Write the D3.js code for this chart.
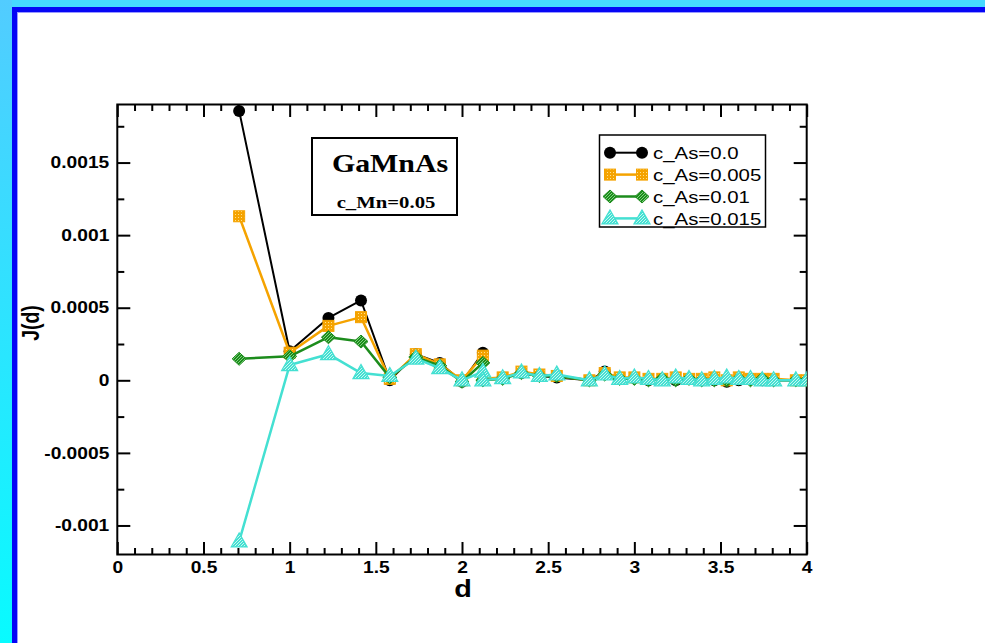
<!DOCTYPE html>
<html><head><meta charset="utf-8">
<script src="https://cdn.jsdelivr.net/npm/d3@7"></script>
<style>body{margin:0;background:#fff;overflow:hidden}svg{display:block}</style>
</head><body><svg id="c" width="985" height="643"></svg>
<script>
// ---- data ----
const dist = [0.707, 1.0, 1.225, 1.414, 1.581, 1.732, 1.871, 2.0, 2.121, 2.121, 2.236, 2.345, 2.449, 2.550, 2.739, 2.828, 2.915, 3.0, 3.082, 3.162, 3.240, 3.317, 3.391, 3.464, 3.536, 3.606, 3.674, 3.742, 3.808, 3.937, 4.0];
const jAs0   = [0.001856, 0.00020, 0.00043, 0.00055, 0.0, 0.00018, 0.00012, -0.00001, 0.00019, 0.0, 0.00002, 0.00005, 0.00003, 0.00002, 0.0, 0.00006, 0.00001, 0.00002, 0.0, 0.00001, 0.0, 0.00001, 0.0, 0.0, -0.00001, 0.0, 0.00001, 0.0, 0.0, 0.0, 0.0];
const jAs005 = [0.00113, 0.00019, 0.000375, 0.000435, 0.00001, 0.00018, 0.00011, 0.0, 0.00017, 0.00001, 0.00002, 0.00006, 0.00004, 0.00003, 0.0, 0.00005, 0.00002, 0.00002, 0.00001, 0.00001, 0.00002, 0.00001, 0.00001, 0.00002, 0.0, 0.00002, 0.00001, 0.00001, 0.00001, 0.0, 0.0];
const jAs01  = [0.000148, 0.000165, 0.000297, 0.000267, 0.00002, 0.00016, 0.0001, -0.00001, 0.00012, 0.0, 0.00001, 0.00005, 0.00003, 0.00003, 0.0, 0.00004, 0.00001, 0.00001, 0.0, 0.00001, 0.0, 0.00001, 0.0, 0.0, 0.0, 0.00001, 0.0, 0.00001, 0.0, 0.0, 0.0];
const jAs015 = [-0.00111, 0.000105, 0.00018, 0.00005, 0.00003, 0.00015, 0.000084, 0.0, 0.00006, 0.0, 0.000015, 0.000054, 0.00003, 0.00004, 0.0, 0.00004, 0.00001, 0.00002, 0.00001, 0.0, 0.00002, 0.00001, 0.0, 0.00001, 0.00002, 0.00001, 0.00001, 0.0, 0.0, 0.0, 0.0];
const seriesNames = ["c_As=0.0", "c_As=0.005", "c_As=0.01", "c_As=0.015"];
const xTicks = [0, 0.5, 1, 1.5, 2, 2.5, 3, 3.5, 4];
const xTickLabels = ["0", "0.5", "1", "1.5", "2", "2.5", "3", "3.5", "4"];
const yTicks = [-0.001, -0.0005, 0, 0.0005, 0.001, 0.0015];
const yTickLabels = ["-0.001", "-0.0005", "0", "0.0005", "0.001", "0.0015"];
const titleText = "GaMnAs";
const subtitleText = "c_Mn=0.05";
const xLabel = "d";
const yLabel = "J(d)";

// ---- setup ----
const svg = d3.select('#c');
const SX = 1.2; // horizontal stretch of text in reference
const L = 117.3, R = 806.7, T = 104.5, B = 554.5;
const x = d3.scaleLinear().domain([0, 4]).range([L, R]);
const y = d3.scaleLinear().domain([-0.0012, 0.0019]).range([B, T]);

const defs = svg.append('defs');
const grad = defs.append('linearGradient').attr('id', 'lg').attr('x1', 0).attr('y1', 0).attr('x2', 0).attr('y2', 1);
grad.append('stop').attr('offset', 0).attr('stop-color', '#52ccff');
grad.append('stop').attr('offset', 1).attr('stop-color', '#08fbff');
function pat(id, base, light, kind) {
  const p = defs.append('pattern').attr('id', id).attr('patternUnits', 'userSpaceOnUse').attr('width', 3).attr('height', 3);
  p.append('rect').attr('width', 3).attr('height', 3).attr('fill', base);
  if (kind === 'dot') p.append('rect').attr('x', 1).attr('y', 1).attr('width', 1).attr('height', 1).attr('fill', light);
  else { p.append('rect').attr('x', 0).attr('y', 0).attr('width', 1).attr('height', 1).attr('fill', light);
         p.append('rect').attr('x', 2).attr('y', 1).attr('width', 1).attr('height', 1).attr('fill', light);
         p.append('rect').attr('x', 1).attr('y', 2).attr('width', 1).attr('height', 1).attr('fill', light); }
}
pat('pO', '#f5a300', '#ffe08a', 'dot');
pat('pG', '#1c8c1c', '#7fd07f', 'x');
pat('pC', '#44e0d2', '#c8f6f1', 'x');
defs.append('clipPath').attr('id', 'clip').append('rect').attr('x', L).attr('y', T).attr('width', R - L).attr('height', B - T);

// frame
svg.append('rect').attr('width', 985).attr('height', 643).attr('fill', '#fff');
svg.append('rect').attr('x', 0).attr('y', 0).attr('width', 985).attr('height', 7).attr('fill', '#46d8ff');
svg.append('rect').attr('x', 0).attr('y', 0).attr('width', 12).attr('height', 643).attr('fill', 'url(#lg)');
svg.append('rect').attr('x', 12).attr('y', 7).attr('width', 973).attr('height', 5).attr('fill', '#0505f5');
svg.append('rect').attr('x', 12).attr('y', 7).attr('width', 5).attr('height', 636).attr('fill', '#0505f5');
svg.append('rect').attr('x', 17).attr('y', 12).attr('width', 968).attr('height', 1).attr('fill', '#9a9aff');
svg.append('rect').attr('x', 17).attr('y', 12).attr('width', 1).attr('height', 631).attr('fill', '#9a9aff');

// ---- axes ----
function styleAxis(g) {
  g.select('.domain').remove();
  g.selectAll('line').attr('stroke', '#000').attr('stroke-width', 2);
}
const fontTick = "'Liberation Sans', Arial, sans-serif";
const minorX = d3.range(0, 40.5).map(i => i / 10).filter(v => Math.abs(v * 2 - Math.round(v * 2)) > 1e-6);
const minorY = [-0.00075, -0.00025, 0.00025, 0.00075, 0.00125, 0.00175];

const gx = svg.append('g').attr('transform', `translate(0,${B})`)
  .call(d3.axisBottom(x).tickValues(xTicks).tickFormat((v, i) => xTickLabels[i]).tickSizeInner(-12.5).tickSizeOuter(0).tickPadding(7));
styleAxis(gx);
gx.attr('font-size', 16).attr('font-family', fontTick).attr('font-weight', 'bold');
gx.selectAll('text').attr('fill', '#000').attr('transform', `scale(${SX},1)`);
svg.append('g').attr('transform', `translate(0,${B})`).call(d3.axisBottom(x).tickValues(minorX).tickFormat('').tickSizeInner(-6.5).tickSizeOuter(0)).call(styleAxis);
svg.append('g').attr('transform', `translate(0,${T})`).call(d3.axisTop(x).tickValues(xTicks).tickFormat('').tickSizeInner(-12.5).tickSizeOuter(0)).call(styleAxis);
svg.append('g').attr('transform', `translate(0,${T})`).call(d3.axisTop(x).tickValues(minorX).tickFormat('').tickSizeInner(-6.5).tickSizeOuter(0)).call(styleAxis);

const gy = svg.append('g').attr('transform', `translate(${L},0)`)
  .call(d3.axisLeft(y).tickValues(yTicks).tickFormat((v, i) => yTickLabels[i]).tickSizeInner(-13).tickSizeOuter(0).tickPadding(8));
styleAxis(gy);
gy.attr('font-size', 16).attr('font-family', fontTick).attr('font-weight', 'bold');
gy.selectAll('text').attr('fill', '#000').attr('x', -8 / SX).attr('transform', `scale(${SX},1)`);
svg.append('g').attr('transform', `translate(${L},0)`).call(d3.axisLeft(y).tickValues(minorY).tickFormat('').tickSizeInner(-7).tickSizeOuter(0)).call(styleAxis);
svg.append('g').attr('transform', `translate(${R},0)`).call(d3.axisRight(y).tickValues(yTicks).tickFormat('').tickSizeInner(-13).tickSizeOuter(0)).call(styleAxis);
svg.append('g').attr('transform', `translate(${R},0)`).call(d3.axisRight(y).tickValues(minorY).tickFormat('').tickSizeInner(-7).tickSizeOuter(0)).call(styleAxis);

svg.append('rect').attr('x', L).attr('y', T).attr('width', R - L).attr('height', B - T)
  .attr('fill', 'none').attr('stroke', '#000').attr('stroke-width', 2);

// axis titles
svg.append('text').attr('transform', `translate(${(x(2) + 1)},597) scale(${SX},1)`).attr('text-anchor', 'middle')
  .attr('font-family', fontTick).attr('font-weight', 'bold').attr('font-size', 24).text(xLabel);
svg.append('text').attr('transform', `translate(39,323) scale(${SX},1) rotate(-90)`).attr('text-anchor', 'middle')
  .attr('font-family', fontTick).attr('font-weight', 'bold').attr('font-size', 19.5).text(yLabel);

// ---- series ----
const series = [
  { name: seriesNames[0], vals: jAs0,   color: '#000000', lw: 2,   shape: 'circle' },
  { name: seriesNames[1], vals: jAs005, color: '#f5a300', lw: 2.5, shape: 'square' },
  { name: seriesNames[2], vals: jAs01,  color: '#1c8c1c', lw: 2.5, shape: 'diamond' },
  { name: seriesNames[3], vals: jAs015, color: '#44e0d2', lw: 2.5, shape: 'triangle' }
];
function drawMarker(g, shape, cx, cy) {
  if (shape === 'circle') g.append('circle').attr('cx', cx).attr('cy', cy).attr('r', 6).attr('fill', '#000');
  else if (shape === 'square') g.append('rect').attr('x', cx - 5.5).attr('y', cy - 5.5).attr('width', 11).attr('height', 11)
    .attr('fill', 'url(#pO)').attr('stroke', '#f5a300').attr('stroke-width', 1);
  else if (shape === 'diamond') g.append('path').attr('d', `M${cx - 7},${cy}L${cx},${cy - 6.5}L${cx + 7},${cy}L${cx},${cy + 6.5}Z`)
    .attr('fill', 'url(#pG)').attr('stroke', '#1c8c1c').attr('stroke-width', 1);
  else g.append('path').attr('d', `M${cx - 8},${cy + 5.5}L${cx},${cy - 8.5}L${cx + 8},${cy + 5.5}Z`)
    .attr('fill', 'url(#pC)').attr('stroke', '#44e0d2').attr('stroke-width', 1.2);
}
const plot = svg.append('g').attr('clip-path', 'url(#clip)');
const line = d3.line().x((v, i) => x(dist[i])).y(v => y(v));
series.forEach(s => {
  const g = plot.append('g');
  g.append('path').datum(s.vals).attr('d', line).attr('fill', 'none').attr('stroke', s.color).attr('stroke-width', s.lw).attr('stroke-linejoin', 'round');
  s.vals.forEach((v, i) => drawMarker(g, s.shape, x(dist[i]), y(v)));
});

// ---- title box ----
svg.append('rect').attr('x', 312).attr('y', 138).attr('width', 145).attr('height', 77).attr('fill', '#fff').attr('stroke', '#000').attr('stroke-width', 2);
svg.append('text').attr('transform', `translate(390,172) scale(1.15,1)`).attr('text-anchor', 'middle')
  .attr('font-family', "'Liberation Serif', 'Times New Roman', serif").attr('font-weight', 'bold').attr('font-size', 26).text(titleText);
svg.append('text').attr('transform', `translate(386,208) scale(1.22,1)`).attr('text-anchor', 'middle')
  .attr('font-family', "'Liberation Serif', 'Times New Roman', serif").attr('font-weight', 'bold').attr('font-size', 17).text(subtitleText);

// ---- legend ----
svg.append('rect').attr('x', 599.5).attr('y', 135).attr('width', 166).attr('height', 92).attr('fill', '#fff').attr('stroke', '#000').attr('stroke-width', 1.5);
series.forEach((s, i) => {
  const ly = 152.7 + i * 21.9;
  const g = svg.append('g');
  g.append('line').attr('x1', 610).attr('x2', 642).attr('y1', ly).attr('y2', ly).attr('stroke', s.color).attr('stroke-width', s.lw);
  drawMarker(g, s.shape, 610, ly);
  drawMarker(g, s.shape, 642, ly);
  g.append('text').attr('transform', `translate(653,${ly + 6.5}) scale(${SX},1)`).attr('font-family', fontTick)
    .attr('font-size', 17).attr('fill', '#000').text(s.name);
});
</script></body></html>
